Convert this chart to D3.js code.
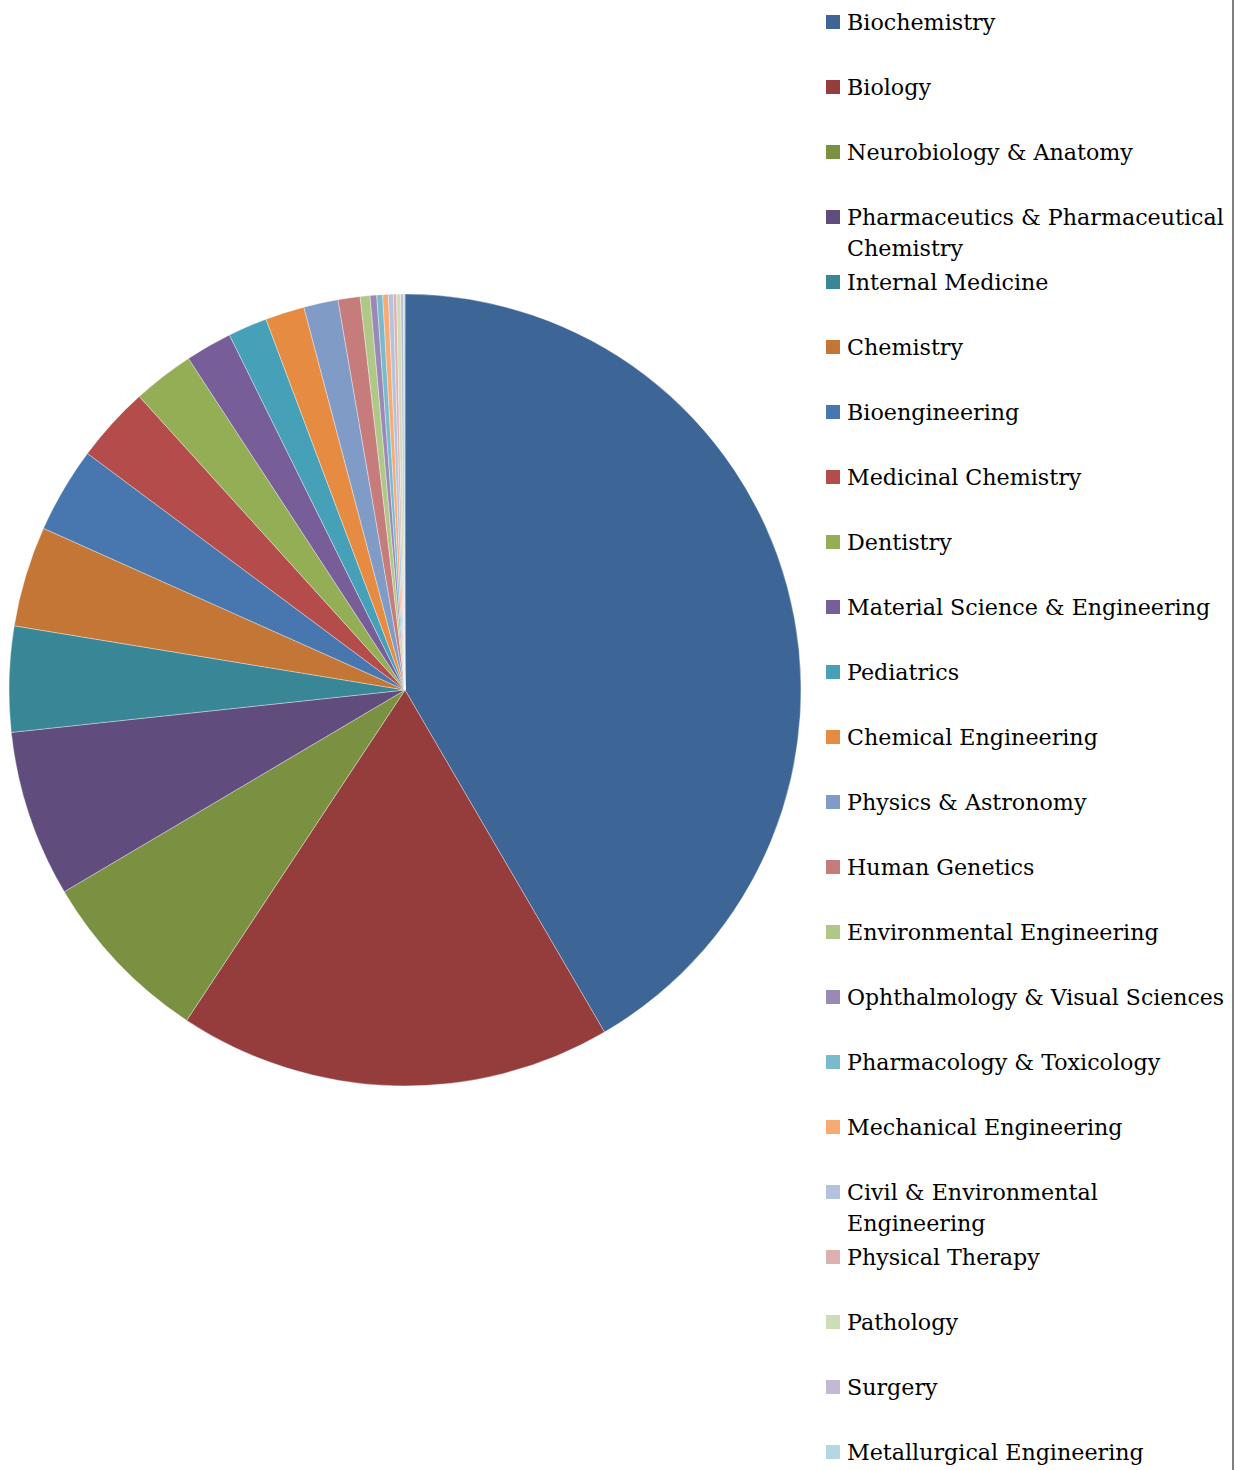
<!DOCTYPE html>
<html>
<head>
<meta charset="utf-8">
<script src="https://cdn.jsdelivr.net/npm/d3@7/dist/d3.min.js"></script>
<style>
  html, body { margin: 0; padding: 0; background: #fff; }
  svg { display: block; }
  .legend text { font-family: "DejaVu Serif", "Liberation Serif", serif; font-size: 22.2px; fill: #000; }
</style>
</head>
<body>
<script>
// Departments and their share of the total (percent); "\n" marks a legend line break
const categories = [
  "Biochemistry", "Biology", "Neurobiology & Anatomy",
  "Pharmaceutics & Pharmaceutical\nChemistry", "Internal Medicine", "Chemistry",
  "Bioengineering", "Medicinal Chemistry", "Dentistry",
  "Material Science & Engineering", "Pediatrics", "Chemical Engineering",
  "Physics & Astronomy", "Human Genetics", "Environmental Engineering",
  "Ophthalmology & Visual Sciences", "Pharmacology & Toxicology", "Mechanical Engineering",
  "Civil & Environmental\nEngineering", "Physical Therapy", "Pathology",
  "Surgery", "Metallurgical Engineering"
];
const values = [
  41.6, 17.7, 7.2,
  6.8, 4.3, 4.1,
  3.5, 3.1, 2.5,
  1.9, 1.6, 1.6,
  1.4, 0.9, 0.40,
  0.27, 0.24, 0.23,
  0.20, 0.13, 0.17,
  0.11, 0.06
];
const colors = [
  "#3d6596", "#953c3c", "#7a9142",
  "#604c7d", "#388696", "#c37636",
  "#4877af", "#b34c4a", "#94ae55",
  "#785e98", "#46a0b8", "#e68c42",
  "#7f9bc6", "#c77c7c", "#afc888",
  "#9a89b5", "#7abacd", "#f7aa74",
  "#b5c2dd", "#ddb1b0", "#cdddb7",
  "#c4b8d4", "#b4d7e2"
];

const W = 1234, H = 1470;
const cx = 405, cy = 690, R = 396;

const svg = d3.select("body").append("svg")
  .attr("width", W).attr("height", H);

const data = categories.map((c, i) => ({ name: c, value: values[i], color: colors[i] }));

const pie = d3.pie().sort(null).value(d => d.value);
const arc = d3.arc().innerRadius(0).outerRadius(R);

svg.append("g")
  .attr("transform", `translate(${cx},${cy})`)
  .selectAll("path")
  .data(pie(data))
  .join("path")
  .attr("d", arc)
  .attr("fill", d => d.data.color)
  .attr("stroke", "#ffffff")
  .attr("stroke-width", 0.5)
  .attr("stroke-opacity", 0.7);

// Legend: one row every 65px, wrapped lines continue 31px lower
const rowY = d3.scalePoint().domain(categories).range([22, 1452]);
const legend = svg.append("g").attr("class", "legend");
const textX = 847;
const columnWidth = 377; // room between the text start and the right border

const items = legend.selectAll("g.item")
  .data(data)
  .join("g")
  .attr("class", "item")
  .attr("transform", d => `translate(0,${rowY(d.name)})`);

items.append("rect")
  .attr("x", 826).attr("y", -7)
  .attr("width", 14).attr("height", 14)
  .attr("fill", d => d.color);

items.append("text")
  .attr("x", textX).attr("y", 8)
  .each(function (d) {
    const t = d3.select(this);
    d.name.split("\n").forEach((line, i) => {
      const ts = t.append("tspan")
        .attr("x", textX)
        .attr("dy", i === 0 ? 0 : 31)
        .text(line);
      // squeeze a line that would run past the border
      if (ts.node().getComputedTextLength() > columnWidth) {
        ts.attr("textLength", columnWidth).attr("lengthAdjust", "spacingAndGlyphs");
      }
    });
  });

// Right border
svg.append("line")
  .attr("x1", 1233).attr("x2", 1233)
  .attr("y1", 0).attr("y2", H)
  .attr("stroke", "#555").attr("stroke-width", 1.5);
</script>
</body>
</html>
